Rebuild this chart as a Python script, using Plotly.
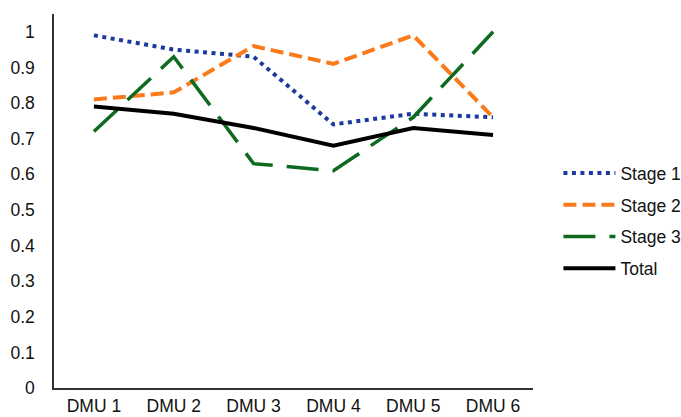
import plotly.graph_objects as go

# Efficiency scores per decision-making unit
dmus = ["DMU 1", "DMU 2", "DMU 3", "DMU 4", "DMU 5", "DMU 6"]
stage1 = [0.99, 0.95, 0.93, 0.74, 0.77, 0.76]
stage2 = [0.81, 0.83, 0.96, 0.91, 0.99, 0.76]
stage3 = [0.72, 0.93, 0.63, 0.61, 0.76, 1.00]
total = [0.79, 0.77, 0.73, 0.68, 0.73, 0.71]

y_ticks = [0, 0.1, 0.2, 0.3, 0.4, 0.5, 0.6, 0.7, 0.8, 0.9, 1]
y_tick_text = ["0", "0.1", "0.2", "0.3", "0.4", "0.5", "0.6", "0.7", "0.8", "0.9", "1"]

series = [
    ("Stage 1", stage1, "#1c3a9e", "4px,4.5px", 4),
    ("Stage 2", stage2, "#fb7a1c", "13px,6px", 4),
    ("Stage 3", stage3, "#0d6a1f", "32px,14px", 3.5),
    ("Total", total, "#000000", "solid", 4),
]

fig = go.Figure()
for name, vals, color, dash, width in series:
    fig.add_trace(go.Scatter(
        x=dmus, y=vals, name=name, mode="lines",
        legendgroup=name,
        line=dict(color=color, dash=dash, width=width),
    ))

font_family = "Liberation Sans, Arial, sans-serif"

fig.update_layout(
    width=681, height=417,
    margin=dict(l=54, r=148, t=14, b=29),
    paper_bgcolor="white", plot_bgcolor="white",
    font=dict(family=font_family, size=17.5, color="#111111"),
    showlegend=True,
    legend=dict(
        xref="container", yref="container",
        x=0.82, y=0.628, xanchor="left", yanchor="top",
        font=dict(size=17.5), tracegroupgap=6, itemwidth=52,
        bgcolor="rgba(0,0,0,0)",
    ),
    xaxis=dict(
        type="category", range=[-0.5, 5.5], automargin=False,
        showline=True, linecolor="#333333", linewidth=1.5,
        showgrid=False, ticks="", ticklabelstandoff=1,
        tickfont=dict(size=17.5),
    ),
    yaxis=dict(
        range=[0, 1.05], tickvals=y_ticks, ticktext=y_tick_text,
        automargin=False,
        showline=True, linecolor="#333333", linewidth=1.5,
        showgrid=False, zeroline=False, ticks="", ticklabelstandoff=14,
        tickfont=dict(size=17.5),
    ),
)

fig.write_html("out.html")
